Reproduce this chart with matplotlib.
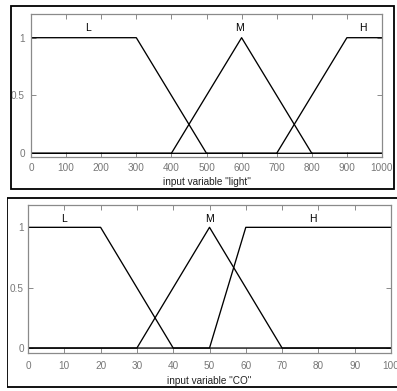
import matplotlib
matplotlib.use('Agg')
import matplotlib.pyplot as plt
from matplotlib.patches import Rectangle

plt.rcParams['font.family'] = ['Liberation Sans', 'DejaVu Sans']

# membership functions, input "light"
light_x_L = [0, 300, 500, 1000]
light_y_L = [1, 1, 0, 0]
light_x_M = [0, 400, 600, 800, 1000]
light_y_M = [0, 0, 1, 0, 0]
light_x_H = [0, 700, 900, 1000]
light_y_H = [0, 0, 1, 1]
light_labels = ['L', 'M', 'H']
light_label_x = [162, 593, 946]

# membership functions, input "CO"
co_x_L = [0, 20, 40, 100]
co_y_L = [1, 1, 0, 0]
co_x_M = [0, 30, 50, 70, 100]
co_y_M = [0, 0, 1, 0, 0]
co_x_H = [0, 50, 60, 100]
co_y_H = [0, 0, 1, 1]
co_labels = ['L', 'M', 'H']
co_label_x = [10, 50, 78.6]

W, H = 397, 391
fig = plt.figure(figsize=(W / 100, H / 100), dpi=100)

frame_col = '#8a8a8a'
tick_col = '#777777'


def px(x0, y0, x1, y1):
    # pixel box -> figure fraction [left, bottom, width, height]
    return [x0 / W, 1 - y1 / H, (x1 - x0) / W, (y1 - y0) / H]


def setup(ax, xmax, xticks, xlabel, ylim, xpad, ypad, lpad):
    ax.set_xlim(0, xmax)
    ax.set_ylim(*ylim)
    ax.set_xticks(xticks)
    ax.set_xticklabels([str(t) for t in xticks])
    ax.set_yticks([0, 0.5, 1])
    ax.set_yticklabels(['0', '0.5', '1'])
    for s in ax.spines.values():
        s.set_color(frame_col)
        s.set_linewidth(0.9)
    ax.tick_params(direction='in', length=3.5, width=0.7, color=frame_col,
                   labelcolor=tick_col, labelsize=7.2, top=True, right=True)
    ax.tick_params(axis='x', pad=xpad)
    ax.tick_params(axis='y', pad=ypad)
    ax.set_xlabel(xlabel, fontsize=7.2, labelpad=lpad, color='#222222')


# top panel
fig.patches.append(Rectangle((11 / W, 1 - 189 / H), 383 / W, 183 / H,
                             transform=fig.transFigure, fill=False,
                             edgecolor='black', linewidth=1.3))
ax1 = fig.add_axes(px(31, 14, 382, 157))
for xs, ys in [(light_x_L, light_y_L), (light_x_M, light_y_M), (light_x_H, light_y_H)]:
    ax1.plot(xs, ys, color='black', linewidth=0.95)
for lab, lx in zip(light_labels, light_label_x):
    ax1.text(lx, 1.08, lab, ha='center', va='center', fontsize=7.5)
setup(ax1, 1000, list(range(0, 1001, 100)), 'input variable "light"',
      (-0.032, 1.205), 4.5, 4.5, 2.8)

# bottom panel
fig.patches.append(Rectangle((7 / W, 1 - 387 / H), 400 / W, 189 / H,
                             transform=fig.transFigure, fill=False,
                             edgecolor='black', linewidth=1.3))
ax2 = fig.add_axes(px(28, 205, 391, 353))
for xs, ys in [(co_x_L, co_y_L), (co_x_M, co_y_M), (co_x_H, co_y_H)]:
    ax2.plot(xs, ys, color='black', linewidth=0.95)
for lab, lx in zip(co_labels, co_label_x):
    ax2.text(lx, 1.07, lab, ha='center', va='center', fontsize=7.5)
setup(ax2, 100, list(range(0, 101, 10)), 'input variable "CO"',
      (-0.041, 1.185), 5.5, 3, 4)

# the screenshot cut off the left of the lower panel
fig.patches.append(Rectangle((0, 0), 6.5 / W, 1 - 197 / H,
                             transform=fig.transFigure, facecolor='white',
                             edgecolor='none', zorder=10))

fig.savefig('out.png', dpi=100)
